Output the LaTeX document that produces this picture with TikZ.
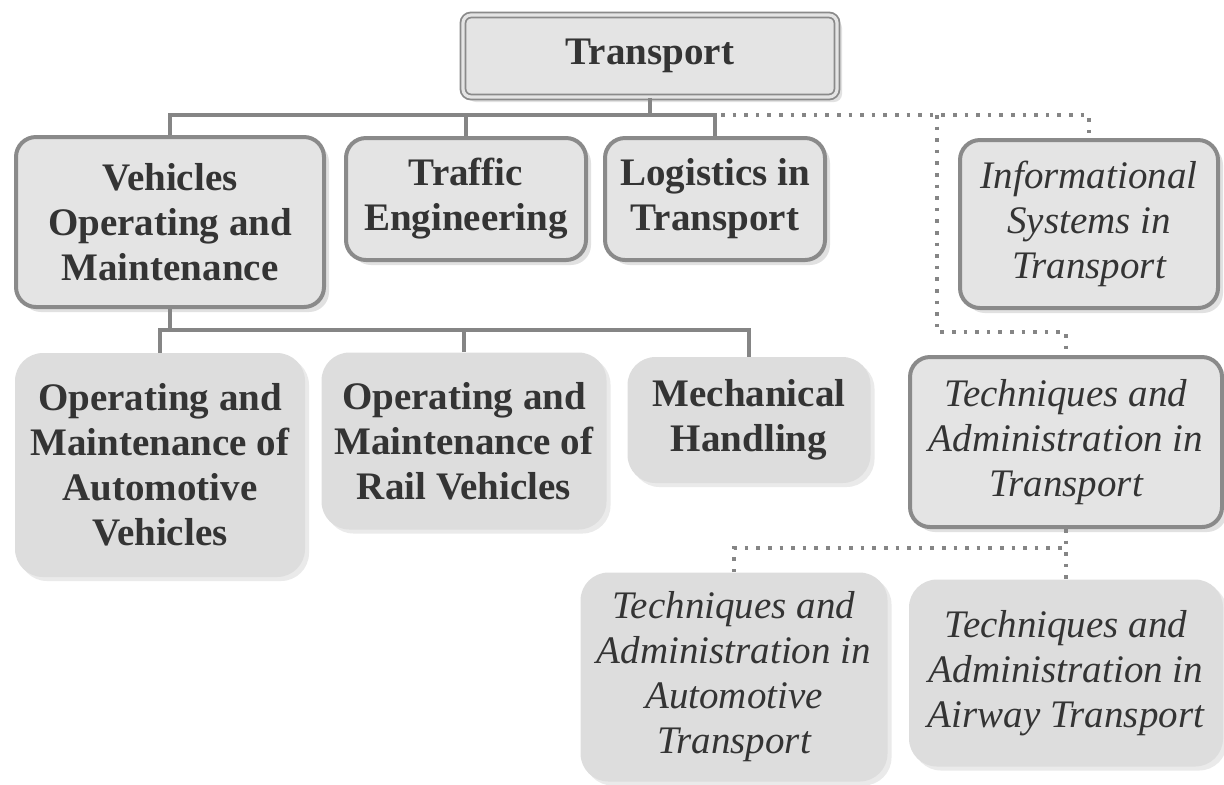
\documentclass[tikz,border=0pt]{standalone}
\usepackage{fontspec}
\setmainfont{Liberation Serif}
\usetikzlibrary{shadows}
\definecolor{ink}{HTML}{343434}
\definecolor{edge}{HTML}{8A8A8A}
\definecolor{boxfill}{HTML}{E4E4E4}
\definecolor{subfill}{HTML}{DDDDDD}
\definecolor{shade}{HTML}{C4C4C4}
\definecolor{wire}{HTML}{858585}
\tikzset{
  box/.style={align=center, text=ink, inner sep=0pt},
  bftext/.style={font=\fontsize{19.5}{22.5}\selectfont\bfseries},
  ittext/.style={font=\fontsize{19.5}{22.5}\selectfont\itshape},
  mainbox/.style={box, draw=edge, line width=2pt, fill=boxfill, rounded corners=10pt,
    drop shadow={shadow xshift=2.5pt, shadow yshift=-2.5pt, fill=shade}},
  headbox/.style={box, draw=edge, line width=0.9pt, double=boxfill, double distance=1.6pt,
    fill=boxfill, rounded corners=4pt,
    drop shadow={shadow xshift=2.5pt, shadow yshift=-2.5pt, fill=shade}},
  subbox/.style={box, fill=subfill, rounded corners=14pt,
    drop shadow={shadow xshift=2pt, shadow yshift=-2pt, fill=shade!70}},
  solidline/.style={draw=wire, line width=1.8pt},
  dottedline/.style={draw=wire, line width=1.8pt, dash pattern=on 1.8pt off 4pt},
}
\begin{document}
\begin{tikzpicture}[x=0.5pt, y=-0.5pt]
  \useasboundingbox (0,0) rectangle (1224,784);
  \fill[white] (0,0) rectangle (1224,784);
  % top level
  \node[headbox, bftext, minimum width=187pt, minimum height=41pt] (trans) at (650,56) {Transport};
  \node[mainbox, bftext, minimum width=154pt, minimum height=85pt] (veh) at (170,222)
    {Vehicles\\Operating and\\Maintenance};
  \node[mainbox, bftext, minimum width=120pt, minimum height=61pt] (traf) at (466,199)
    {Traffic\\Engineering};
  \node[mainbox, bftext, minimum width=110pt, minimum height=61pt] (logi) at (715,199)
    {Logistics in\\Transport};
  \node[mainbox, ittext, minimum width=129pt, minimum height=84pt] (info) at (1089,224)
    {Informational\\Systems in\\Transport};
  \node[mainbox, ittext, minimum width=156pt, minimum height=85pt] (tat) at (1066,442)
    {Techniques and\\Administration in\\Transport};
  % second level
  \node[subbox, bftext, minimum width=145pt, minimum height=112pt] (omav) at (160,465)
    {Operating and\\Maintenance of\\Automotive\\Vehicles};
  \node[subbox, bftext, minimum width=142.5pt, minimum height=88.5pt] (omrv) at (464,441)
    {Operating and\\Maintenance of\\Rail Vehicles};
  \node[subbox, bftext, minimum width=121.5pt, minimum height=63pt] (mech) at (749,420)
    {Mechanical\\Handling};
  \node[subbox, ittext, minimum width=153.5pt, minimum height=104.5pt] (tata) at (734,677)
    {Techniques and\\Administration in\\Automotive\\Transport};
  \node[subbox, ittext, minimum width=157pt, minimum height=93.5pt] (tair) at (1066,673)
    {Techniques and\\Administration in\\Airway Transport};
  % bus levels
  \coordinate (busA) at (0,115);
  \coordinate (tap) at (937,115);
  \coordinate (busB) at (0,330);
  \coordinate (tapB) at (0,332);
  \coordinate (busD) at (0,548);
  % connectors
  \draw[solidline] (trans.south) -- (trans.south |- busA);
  \draw[solidline] (veh.north) |- (logi.north |- busA) -- (logi.north);
  \draw[solidline] (traf.north) -- (traf.north |- busA);
  \draw[dottedline] ([xshift=3pt]logi.north |- busA) -| (info.north);
  \draw[dottedline] (tap) |- (tat.north |- tapB) -- (tat.north);
  \draw[solidline] (veh.south) -- (veh.south |- busB);
  \draw[solidline] (omav.north) |- (mech.north |- busB) -- (mech.north);
  \draw[solidline] (omrv.north) -- (omrv.north |- busB);
  \draw[dottedline] (tat.south) -- (tair.north);
  \draw[dottedline] (tata.north) |- (tat.south |- busD);
\end{tikzpicture}
\end{document}
